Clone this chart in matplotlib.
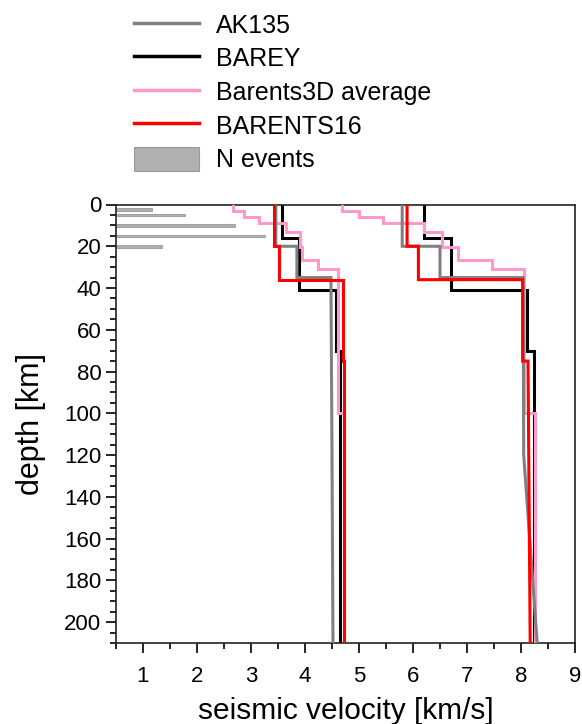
import matplotlib
matplotlib.use("Agg")
import matplotlib.pyplot as plt
from matplotlib.patches import Patch
from matplotlib.lines import Line2D
from matplotlib.ticker import MultipleLocator

plt.rcParams['font.family'] = ['Liberation Sans', 'DejaVu Sans']

# ---- data (depth in km, velocity in km/s), piecewise profiles ----
ak135_depth = [0, 20, 20, 35, 35, 77.5, 77.5, 120, 165, 210]
ak135_vp = [5.80, 5.80, 6.50, 6.50, 8.04, 8.045, 8.045, 8.05, 8.175, 8.30]
ak135_vs = [3.46, 3.46, 3.85, 3.85, 4.48, 4.49, 4.49, 4.50, 4.509, 4.518]

barey_depth = [0, 16, 16, 41, 41, 70, 70, 210]
barey_vp = [6.21, 6.21, 6.71, 6.71, 8.12, 8.12, 8.24, 8.24]
barey_vs = [3.57, 3.57, 3.88, 3.88, 4.57, 4.57, 4.64, 4.64]

b3d_depth = [0, 3, 3, 6, 6, 9, 9, 13, 13, 20.5, 20.5, 26.5, 26.5, 31, 31, 100, 100, 210]
b3d_vp = [4.68, 4.68, 5.00, 5.00, 5.45, 5.45, 6.21, 6.21, 6.53, 6.53, 6.84, 6.84,
          7.46, 7.46, 8.05, 8.05, 8.26, 8.26]
b3d_vs = [2.67, 2.67, 2.87, 2.87, 3.15, 3.15, 3.64, 3.64, 3.90, 3.90, 3.95, 3.95,
          4.24, 4.24, 4.61, 4.61, 4.73, 4.73]

b16_depth = [0, 20, 20, 36, 36, 75, 75, 210]
b16_vp = [5.89, 5.89, 6.10, 6.10, 8.03, 8.03, 8.13, 8.17]
b16_vs = [3.42, 3.42, 3.52, 3.52, 4.70, 4.70, 4.73, 4.73]

# N events histogram (bar length in axis units, starting at the left axis)
nev_depth = [2.5, 5, 10, 15, 20]
nev_len = [0.66, 1.27, 2.21, 2.75, 0.85]

fig = plt.figure(figsize=(5.82, 7.24), dpi=100)
ax = fig.add_axes([116/582, 1-643/724, (575-116)/582, (643-204.5)/724])

xmin, xmax = 0.5, 9.0
lw = 2.2

ax.barh(nev_depth, nev_len, left=xmin, height=1.2, color='#b0b0b0',
        edgecolor='#999999', linewidth=0.6, zorder=1)

styles = [
    ('BAREY', barey_depth, barey_vp, barey_vs, 'black', 2),
    ('Barents3D average', b3d_depth, b3d_vp, b3d_vs, '#ff99cc', 3),
    ('AK135', ak135_depth, ak135_vp, ak135_vs, '#808080', 4),
    ('BARENTS16', b16_depth, b16_vp, b16_vs, '#ff0000', 5),
]
for name, d, vp, vs, c, z in styles:
    ax.plot(vp, d, color=c, lw=lw, zorder=z, solid_joinstyle='miter')
    ax.plot(vs, d, color=c, lw=lw, zorder=z, solid_joinstyle='miter')

ax.set_xlim(xmin, xmax)
ax.set_ylim(210, 0)
ax.xaxis.set_major_locator(MultipleLocator(1))
ax.xaxis.set_minor_locator(MultipleLocator(0.5))
ax.yaxis.set_major_locator(MultipleLocator(20))
ax.yaxis.set_minor_locator(MultipleLocator(5))
ax.tick_params(which='major', length=7.5, width=1.2, labelsize=16)
ax.tick_params(axis='x', which='major', pad=9)
ax.tick_params(axis='y', which='major', pad=3)
ax.tick_params(which='minor', length=4.5, width=1.2)
ax.tick_params(top=False, right=False)
for s in ax.spines.values():
    s.set_linewidth(1.2)
    s.set_color('#222222')

ax.set_xlabel('seismic velocity [km/s]', fontsize=21.5, labelpad=7)
ax.set_ylabel('depth [km]', fontsize=22, labelpad=13)

handles = [
    Line2D([], [], color='#808080', lw=2.5),
    Line2D([], [], color='black', lw=2.5),
    Line2D([], [], color='#ff99cc', lw=2.5),
    Line2D([], [], color='#ff0000', lw=2.5),
    Patch(facecolor='#b0b0b0', edgecolor='#999999', linewidth=0.8),
]
labels = ['AK135', 'BAREY', 'Barents3D average', 'BARENTS16', 'N events']
fig.legend(handles, labels, loc='upper left', bbox_to_anchor=(121/582, 1.0),
           frameon=False, fontsize=18, borderpad=0, handlelength=2.6,
           handleheight=1.08, handletextpad=0.7, labelspacing=0.33)

fig.savefig('out.png', dpi=100)
